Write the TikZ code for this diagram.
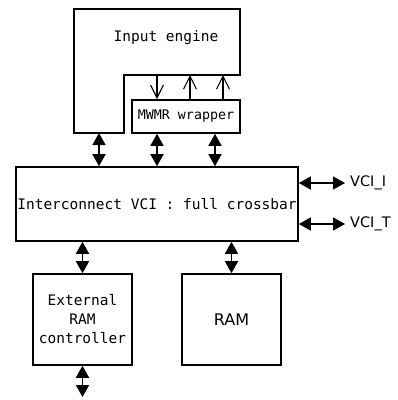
\documentclass[tikz,border=0pt]{standalone}
\usepackage{fontspec}
\setmonofont{DejaVu Sans Mono}
\newfontfamily\labelfont{DejaVu Sans}
\usetikzlibrary{arrows.meta}

\tikzset{
  blk/.style={draw, line width=1.6pt, inner sep=0pt, font=\ttfamily\fontsize{14.5}{19}\selectfont},
  bus/.style={line width=1.6pt, arrows={Triangle[length=12pt,width=13pt]-Triangle[length=12pt,width=13pt]}},
  req/.style={line width=1.1pt, arrows={-Straight Barb[length=13pt,width=13pt,line width=1.1pt]}}
}

\begin{document}
\begin{tikzpicture}[x=1pt,y=-1pt]
\useasboundingbox (0,0) rectangle (398,400);

% input engine, L shaped around the wrapper
\draw[line width=1.6pt] (74,9) -- (240,9) -- (240,75) -- (124,75) -- (124,133) -- (74,133) -- cycle;
\node[font=\ttfamily\fontsize{14.5}{19}\selectfont] (ie) at (166,38) {Input engine};
\coordinate (ieA) at (99,133);
\coordinate (ieB) at (157,75);
\coordinate (ieC) at (190,75);
\coordinate (ieD) at (223,75);

\node[blk, minimum width=108pt, minimum height=33pt, font=\ttfamily\fontsize{13.3}{17}\selectfont] (wr) at (186,116.5) {MWMR wrapper};
\node[blk, minimum width=282pt, minimum height=74pt] (ic) at (157,204) {Interconnect VCI : full crossbar};
\node[blk, minimum width=99pt, minimum height=91pt, align=center] (ext) at (82.5,319.5) {External\\RAM\\controller};
\node[blk, minimum width=99pt, minimum height=91pt, font=\labelfont\fontsize{16}{19}\selectfont] (ram) at (231.5,319.5) {RAM};

\coordinate (ioI) at (345,183);
\coordinate (ioT) at (345,224);
\coordinate (ioE) at (82.5,397);
\node[anchor=west, inner sep=0pt, font=\labelfont\fontsize{14.5}{19}\selectfont] (lI) at (350,183) {VCI\_I};
\node[anchor=west, inner sep=0pt, font=\labelfont\fontsize{14.5}{19}\selectfont] (lT) at (350,224) {VCI\_T};

% engine <-> wrapper
\draw[req] (ieB) -- (ieB |- wr.north);
\draw[req] (ieC |- wr.north) -- (ieC);
\draw[req] (ieD |- wr.north) -- (ieD);

% buses
\draw[bus] (ieA) -- (ieA |- ic.north);
\draw[bus] (wr.south -| ieB) -- (ieB |- ic.north);
\draw[bus] (wr.south -| 215,0) -- (ic.north -| 215,0);
\draw[bus] (ioI -| ic.east) -- (ioI);
\draw[bus] (ioT -| ic.east) -- (ioT);
\draw[bus] (ic.south -| ext.north) -- (ext.north);
\draw[bus] (ic.south -| ram.north) -- (ram.north);
\draw[bus] (ext.south) -- (ioE);
\end{tikzpicture}
\end{document}
